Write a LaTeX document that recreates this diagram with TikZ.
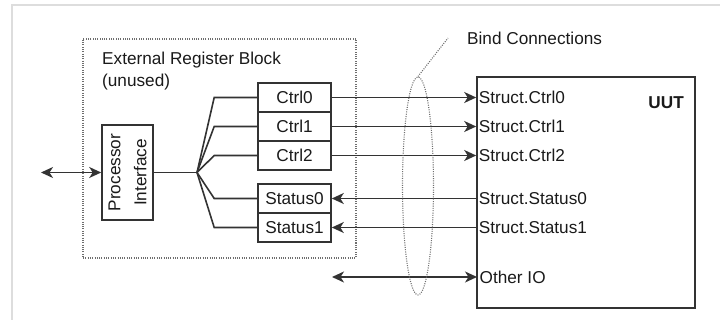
\documentclass[tikz,border=0pt]{standalone}
\usepackage{fontspec}
\setmainfont{Liberation Sans}
\usetikzlibrary{arrows.meta,shapes.geometric}
\definecolor{ln}{HTML}{333333}
\definecolor{tx}{HTML}{1A1A1A}
\definecolor{dt}{HTML}{6E6E6E}
\definecolor{fr}{HTML}{DDDDDD}
\begin{document}
\begin{tikzpicture}[x=1pt,y=-1pt,
  txt/.style={font=\fontsize{17.2}{21}\selectfont, text=tx},
  reg/.style={draw=ln, line width=1.6pt, minimum width=73pt, minimum height=29pt, inner sep=0pt, txt},
  wire/.style={draw=ln, line width=1.6pt},
  tipstyle/.tip={Stealth[length=12pt,width=11pt,inset=3.5pt]},
  arr/.style={wire, -tipstyle},
  darr/.style={wire, tipstyle-tipstyle},
  dots/.style={draw=dt, line width=1.1pt, dash pattern=on 1pt off 1.3pt},
  port/.style={txt, anchor=west, inner xsep=2.5pt, inner ysep=0pt}]
\useasboundingbox (0,0) rectangle (720,320);
\draw[fr, line width=1.5pt] (12,335) -- (12,5) -- (735,5);
% external register block
\node[dots, minimum width=273pt, minimum height=219pt, inner sep=0pt] (erb) at (219.5,148.5) {};
\node[txt, anchor=west, inner sep=0pt] (erbl1) at (102,60) {External Register Block};
\node[txt, anchor=west, inner sep=0pt] (erbl2) at (102,82) {(unused)};
% processor interface
\node[wire, minimum width=51pt, minimum height=95pt, inner sep=0pt] (pi) at (127.5,172.5) {};
\node[txt, rotate=90, align=center, inner sep=0pt] (pil) at (pi.center) {Processor\\[5pt]Interface};
\coordinate (ext) at (41,172.5);
\draw[darr] (ext) -- (pi.west);
% registers
\node[reg] (c0) at (294.5,97.5) {Ctrl0};
\node[reg] (c1) at (294.5,126.5) {Ctrl1};
\node[reg] (c2) at (294.5,155.5) {Ctrl2};
\node[reg] (s0) at (294.5,198.5) {Status0};
\node[reg] (s1) at (294.5,227.5) {Status1};
% fan-out
\coordinate (j) at (197,172.5);
\draw[wire] (pi.east) -- (j);
\foreach \r in {c0,c1,c2,s0,s1}{
  \draw[wire] (j) -- ([xshift=-43pt]\r.west) -- (\r.west);
}
% UUT
\node[wire, minimum width=218pt, minimum height=231pt, inner sep=0pt] (uut) at (586,192.5) {};
\node[txt, font=\fontsize{17.2}{21}\selectfont\bfseries, anchor=east, inner sep=0pt] (uutl) at (684,103) {UUT};
\node[port] (pc0) at (uut.west |- c0) {Struct.Ctrl0};
\node[port] (pc1) at (uut.west |- c1) {Struct.Ctrl1};
\node[port] (pc2) at (uut.west |- c2) {Struct.Ctrl2};
\node[port] (ps0) at (uut.west |- s0) {Struct.Status0};
\node[port] (ps1) at (uut.west |- s1) {Struct.Status1};
\node[port] (pio) at (477,277) {Other IO};
\draw[arr] (c0.east) -- (pc0.west);
\draw[arr] (c1.east) -- (pc1.west);
\draw[arr] (c2.east) -- (pc2.west);
\draw[arr] (ps0.west) -- (s0.east);
\draw[arr] (ps1.west) -- (s1.east);
\coordinate (iol) at (332,277);
\draw[darr] (iol) -- (pio.west);
% bind connections
\node[dots, ellipse, minimum width=31pt, minimum height=218pt, inner sep=0pt] (bind) at (418,186) {};
\coordinate (lead) at (448,38);
\draw[dots] (bind.north) -- (lead);
\node[txt, anchor=west, inner sep=0pt] (bindl) at (467,38) {Bind Connections};
\end{tikzpicture}
\end{document}
